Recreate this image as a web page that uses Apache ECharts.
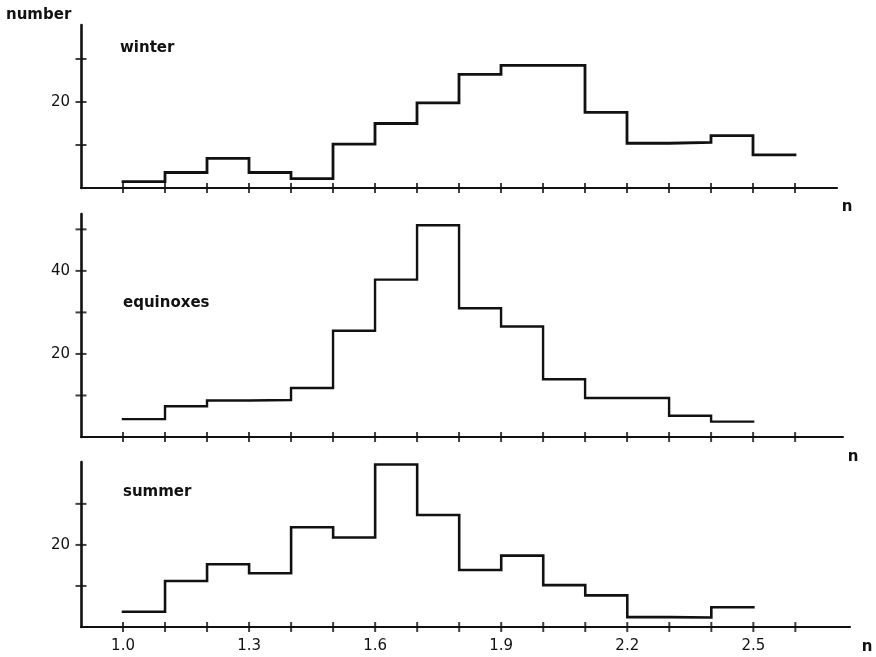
<!DOCTYPE html>
<html>
<head>
<meta charset="utf-8">
<script src="https://cdn.jsdelivr.net/npm/echarts@6.0.0/dist/echarts.min.js"></script>
<style>
html,body{margin:0;padding:0;background:#fff;}
#chart{width:876px;height:657px;}
</style>
</head>
<body>
<div id="chart"></div>
<script>
// ---- data ----
const winterEdges = [1.0,1.1,1.2,1.3,1.4,1.5,1.6,1.7,1.8,1.9,2.0,2.1,2.2,2.3,2.4,2.5,2.6];
const winterCounts = [1.5,3.6,6.9,3.6,2.2,10.2,15.0,19.8,26.4,28.5,28.5,17.6,10.4,10.6,12.2,7.7];

const equinoxEdges = [1.0,1.1,1.2,1.3,1.4,1.5,1.6,1.7,1.8,1.9,2.0,2.1,2.2,2.3,2.4,2.5];
const equinoxCounts = [4.3,7.4,8.8,8.9,11.8,25.6,37.9,51.0,31.0,26.6,13.9,9.4,9.4,5.1,3.7];

const summerEdges = [1.0,1.1,1.2,1.3,1.4,1.5,1.6,1.7,1.8,1.9,2.0,2.1,2.2,2.3,2.4,2.5];
const summerCounts = [3.7,11.2,15.3,13.1,24.3,21.8,39.6,27.3,13.9,17.4,10.2,7.7,2.4,2.3,4.8];

const xTickValues = [1.0,1.1,1.2,1.3,1.4,1.5,1.6,1.7,1.8,1.9,2.0,2.1,2.2,2.3,2.4,2.5,2.6];
const xLabelValues = [1.0,1.3,1.6,1.9,2.2,2.5];

const winterYTicks = [10,20,30];
const winterYLabels = [20];
const equinoxYTicks = [10,20,30,40,50];
const equinoxYLabels = [20,40];
const summerYTicks = [10,20,30];
const summerYLabels = [20];

const panelNames = ['winter','equinoxes','summer'];
const yTitle = 'number';
const xTitle = 'n';

// ---- build ----
function stepData(edges, counts){
  const d = [];
  for (let i = 0; i < counts.length; i++) d.push([edges[i], counts[i]]);
  d.push([edges[counts.length], counts[counts.length-1]]);
  return d;
}

const FONT = 'DejaVu Sans';
const INK = '#111';
const X0 = 0.9;

const grids = [
  {left:81, top:25, width:756, height:163},
  {left:81, top:214, width:762, height:223},
  {left:81, top:462, width:769, height:165}
];
const xMax = [2.7, 2.714, 2.73];
const yMax = [37.9, 53.7, 40.2];
const yTicks = [winterYTicks, equinoxYTicks, summerYTicks];
const yLabels = [winterYLabels, equinoxYLabels, summerYLabels];

const xAxes = [], yAxes = [];
for (let g = 0; g < 3; g++) {
  xAxes.push({
    type:'value', gridIndex:g, min:X0, max:xMax[g], position:'bottom',
    axisLine:{show:true, onZero:false, lineStyle:{color:INK, width:2.2}},
    axisTick:{show:false},
    axisLabel:{show:g===2, margin:12, color:INK, fontFamily:FONT, fontSize:15,
      customValues:xLabelValues, formatter:v=>Number(v).toFixed(1)},
    splitLine:{show:false}
  });
  yAxes.push({
    type:'value', gridIndex:g, min:0, max:yMax[g], position:'left',
    axisLine:{show:true, onZero:false, lineStyle:{color:INK, width:2.6}},
    axisTick:{show:false},
    axisLabel:{show:true, margin:11, color:INK, fontFamily:FONT, fontSize:15,
      customValues:yLabels[g]},
    splitLine:{show:false}
  });
}

const allEdges = [winterEdges, equinoxEdges, summerEdges];
const allCounts = [winterCounts, equinoxCounts, summerCounts];
const lw = [2.8, 2.4, 2.6];
const series = [];
for (let g = 0; g < 3; g++) {
  series.push({
    type:'line', name:panelNames[g], xAxisIndex:g, yAxisIndex:g,
    step:'end', symbol:'none', silent:true, animation:false,
    lineStyle:{color:INK, width:lw[g], cap:'square', join:'miter'},
    data:stepData(allEdges[g], allCounts[g])
  });
  // crossing tick marks that straddle the axis lines, placed at the tick values
  series.push({
    type:'scatter', xAxisIndex:g, yAxisIndex:g, silent:true, animation:false, clip:false,
    symbol:'rect', symbolSize:[2, 10], itemStyle:{color:INK},
    data:xTickValues.map(v => [v, 0]), z:5
  });
  series.push({
    type:'scatter', xAxisIndex:g, yAxisIndex:g, silent:true, animation:false, clip:false,
    symbol:'rect', symbolSize:[11, 2], itemStyle:{color:INK},
    data:yTicks[g].map(v => [X0, v]), z:5
  });
}

const label = (x, y, s, align) => ({type:'text', x:x, y:y, silent:true,
  style:{text:s, fill:INK, font:'bold 15px "'+FONT+'"', align:align||'left', verticalAlign:'middle'}});

const chart = echarts.init(document.getElementById('chart'), null, {renderer:'canvas'});
chart.setOption({
  backgroundColor:'#fff',
  animation:false,
  tooltip:{show:false},
  grid:grids,
  xAxis:xAxes,
  yAxis:yAxes,
  series:series,
  graphic:[
    label(6, 15, yTitle),
    label(120, 48, panelNames[0]),
    label(123, 303, panelNames[1]),
    label(123, 492, panelNames[2]),
    label(847, 207, xTitle, 'center'),
    label(853, 457, xTitle, 'center'),
    label(867, 647, xTitle, 'center')
  ]
});
</script>
</body>
</html>
